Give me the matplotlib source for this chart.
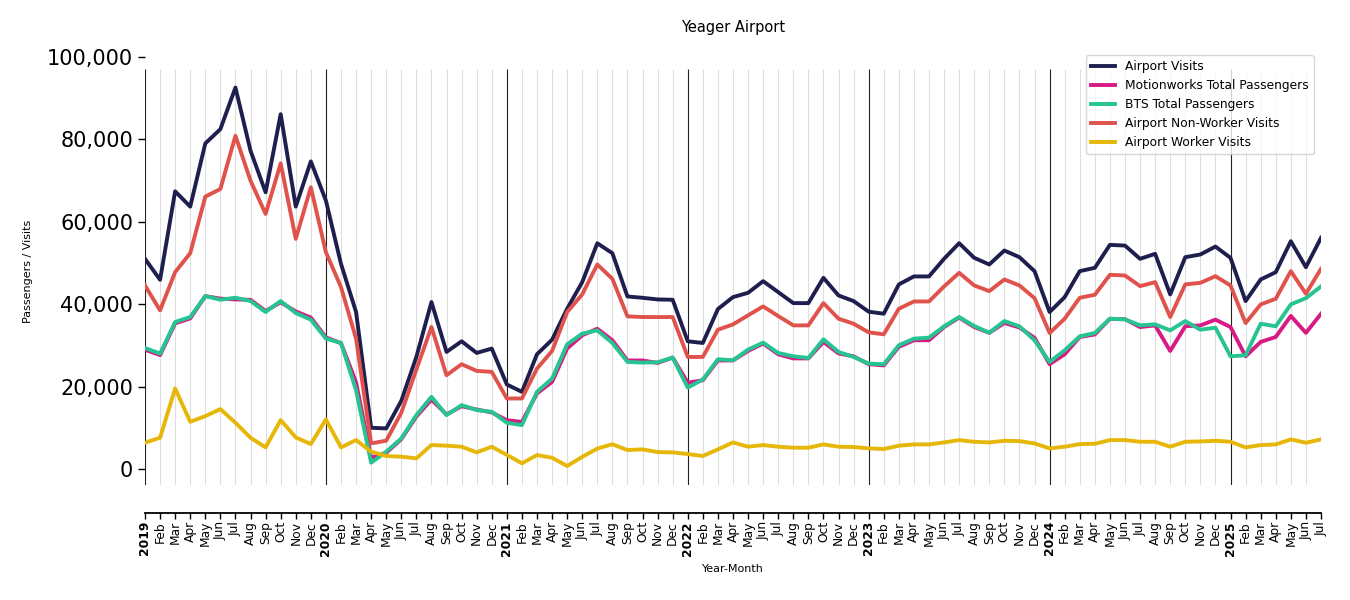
import matplotlib
matplotlib.use("Agg")
import matplotlib.pyplot as plt
from matplotlib.ticker import FuncFormatter

# ---- data: monthly, Jan 2019 .. Jul 2025 -----------------------------------
YEARS = [2019, 2020, 2021, 2022, 2023, 2024, 2025]
MONTHS = ["Jan", "Feb", "Mar", "Apr", "May", "Jun", "Jul", "Aug", "Sep", "Oct", "Nov", "Dec"]
N_MONTHS = 79

airport_visits = [
    51050, 45970, 67420, 63710, 79040, 82500, 92590, 77260, 67180, 86130, 63710, 74680,
    65160, 49840, 38150, 10080, 9920, 16610, 27260, 40570, 28470, 31050, 28230, 29280,
    20570, 18790, 27900, 31440, 38940, 45390, 54830, 52410, 41920, 41600, 41200, 41120,
    31050, 30640, 38870, 41760, 42810, 45630, 42970, 40310, 40310, 46440, 42170, 40800,
    38230, 37740, 44840, 46780, 46780, 51050, 54840, 51290, 49680, 53070, 51450, 48060,
    38140, 41760, 48060, 48870, 54430, 54270, 51050, 52260, 42420, 51450, 52100, 54030,
    51290, 40800, 46040, 47810, 55320, 49030, 56130,
]
motionworks_passengers = [
    29000, 27700, 35400, 36600, 42000, 41400, 41200, 41100, 38400, 40500, 38300, 36800,
    32000, 30600, 21100, 2800, 4000, 7300, 12800, 16900, 13300, 15300, 14500, 13800,
    11900, 11500, 18400, 21200, 29300, 32500, 34100, 31300, 26400, 26400, 25800, 27100,
    21000, 21600, 26400, 26400, 28700, 30500, 27900, 26900, 26900, 30900, 28100, 27400,
    25500, 25200, 29700, 31300, 31300, 34500, 36800, 34500, 33100, 35500, 34400, 31900,
    25500, 27900, 32100, 32700, 36500, 36400, 34500, 34900, 28700, 34700, 34900, 36300,
    34500, 27400, 30900, 32100, 37200, 33100, 37700,
]
bts_passengers = [
    29440, 28070, 35730, 36940, 42020, 41130, 41620, 40810, 38150, 40810, 37900, 36290,
    31700, 30650, 19190, 1610, 4270, 7500, 13150, 17580, 13150, 15570, 14360, 13950,
    11290, 10720, 18790, 22000, 30320, 32900, 33700, 30640, 26040, 25880, 25960, 27090,
    19830, 21770, 26690, 26440, 29030, 30720, 28220, 27410, 27010, 31530, 28470, 27250,
    25640, 25480, 30080, 31690, 31930, 34680, 36930, 34760, 33140, 35960, 34680, 31290,
    26040, 28870, 32250, 33060, 36530, 36370, 34920, 35160, 33700, 35960, 33860, 34350,
    27410, 27660, 35320, 34680, 40000, 41520, 44350,
]
non_worker_visits = [
    44600, 38550, 47830, 52420, 66130, 67990, 80890, 70000, 61940, 74200, 55890, 68390,
    52660, 44200, 31700, 6290, 6940, 13710, 24200, 34520, 22820, 25490, 23870, 23630,
    17180, 17180, 24430, 28700, 38140, 42420, 49680, 46200, 37090, 36930, 36930, 36930,
    27250, 27250, 33860, 35150, 37340, 39510, 37170, 34910, 34910, 40310, 36530, 35310,
    33220, 32740, 38940, 40710, 40710, 44350, 47650, 44590, 43220, 46040, 44590, 41520,
    33050, 36530, 41600, 42330, 47170, 47010, 44430, 45390, 36930, 44840, 45230, 46840,
    44590, 35470, 39990, 41360, 48060, 42580, 48620,
]
worker_visits = [
    6450, 7660, 19600, 11530, 12900, 14600, 11290, 7660, 5320, 11940, 7740, 6130,
    12100, 5320, 7100, 4270, 3230, 3060, 2660, 5890, 5730, 5480, 4110, 5480,
    3500, 1450, 3460, 2810, 800, 3020, 5030, 6080, 4670, 4830, 4190, 4100,
    3700, 3220, 4830, 6520, 5480, 5880, 5480, 5240, 5240, 6040, 5480, 5400,
    5080, 4920, 5720, 6040, 6040, 6520, 7090, 6680, 6520, 6920, 6840, 6280,
    5080, 5480, 6120, 6200, 7090, 7090, 6680, 6680, 5480, 6680, 6760, 6920,
    6680, 5320, 5880, 6040, 7250, 6440, 7250,
]

SERIES = [
    ("Airport Visits", airport_visits, "#1e1f4e"),
    ("Motionworks Total Passengers", motionworks_passengers, "#d81b84"),
    ("BTS Total Passengers", bts_passengers, "#27c493"),
    ("Airport Non-Worker Visits", non_worker_visits, "#e0534d"),
    ("Airport Worker Visits", worker_visits, "#e6b709"),
]

# ---- figure -----------------------------------------------------------------
fig = plt.figure(figsize=(13.5, 6), dpi=100)
ax = fig.add_axes([0.1074, 0.1917, 0.8711, 0.7133])

# spine setup first: set_position resets the tick objects
for s in ("top", "right", "left"):
    ax.spines[s].set_visible(False)
ax.spines["bottom"].set_position(("outward", 20))
ax.spines["bottom"].set_linewidth(1.3)

x = list(range(N_MONTHS))
YMIN, YMAX = -3800, 100000
GRID_TOP = 97100

# month grid + year separators
for i in x:
    if i % 12 == 0:
        ax.vlines(i, YMIN, GRID_TOP, color="#222222", lw=0.8, zorder=1)
    else:
        ax.vlines(i, YMIN, GRID_TOP, color="#dedede", lw=0.8, zorder=0)

for label, vals, col in SERIES:
    ax.plot(x, vals, color=col, lw=2.8, label=label, zorder=3)

ax.set_xlim(0, N_MONTHS - 1)
ax.set_ylim(YMIN, YMAX)
ax.set_yticks(range(0, 100001, 20000))
ax.yaxis.set_major_formatter(FuncFormatter(lambda v, _: f"{int(v):,}"))
ax.tick_params(axis="y", labelsize=15, length=5, width=1)

labels = []
for i in x:
    m = i % 12
    labels.append(str(YEARS[i // 12]) if m == 0 else MONTHS[m])
ax.set_xticks(x)
ax.set_xticklabels(labels, rotation=90, fontsize=8.8)
for i, t in enumerate(ax.get_xticklabels()):
    if i % 12 == 0:
        t.set_fontweight("bold")
ax.tick_params(axis="x", length=4, width=1, pad=2)

ax.set_xlabel("Year-Month", fontsize=8, labelpad=6)
ax.set_ylabel("Passengers / Visits", fontsize=8, labelpad=10)
ax.set_title("Yeager Airport", fontsize=10.5, pad=18)

ax.legend(loc="upper right", fontsize=8.8, frameon=True, edgecolor="#cccccc",
          bbox_to_anchor=(0.997, 1.013), borderaxespad=0.3)

fig.savefig("out.png")
